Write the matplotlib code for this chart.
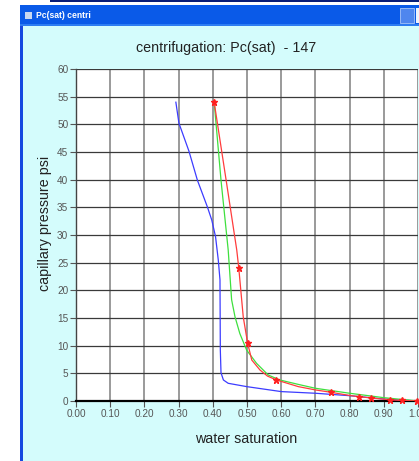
import matplotlib
matplotlib.use('Agg')
import matplotlib.pyplot as plt
from matplotlib.patches import Rectangle
from matplotlib import font_manager

# ── Data ──────────────────────────────────────────────────────────────────────
# measured points (red stars)
meas_sw = [0.404, 0.476, 0.502, 0.586, 0.746, 0.828, 0.864, 0.918, 0.952, 0.996]
meas_pc = [54.0, 24.0, 10.4, 3.8, 1.57, 0.78, 0.54, 0.22, 0.10, 0.0]

# red line through the measured points
red_sw = [0.404, 0.439, 0.470, 0.476, 0.489, 0.502, 0.514, 0.538, 0.560, 0.586,
          0.650, 0.700, 0.746, 0.800, 0.828, 0.864, 0.918, 0.952, 1.000]
red_pc = [54.0, 39.9, 27.3, 24.0, 15.2, 10.4, 7.4, 5.6, 4.5, 3.8,
          2.6, 2.0, 1.57, 1.0, 0.78, 0.54, 0.22, 0.10, 0.0]

# green fitted curve
green_sw = [0.404, 0.424, 0.445, 0.451, 0.455, 0.465, 0.479, 0.499, 0.528,
            0.562, 0.596, 0.650, 0.700, 0.800, 0.900, 1.000]
green_pc = [54.0, 39.9, 27.3, 21.9, 18.3, 15.2, 12.2, 9.2, 6.8,
            4.7, 3.8, 3.0, 2.3, 1.4, 0.6, 0.0]

# blue curve
blue_sw = [0.292, 0.301, 0.330, 0.355, 0.384, 0.397, 0.408, 0.416, 0.421, 0.422,
           0.424, 0.431, 0.445, 0.499, 0.600, 0.700, 0.800, 0.900, 1.000]
blue_pc = [54.0, 50.2, 45.2, 39.9, 35.1, 32.7, 29.7, 25.5, 21.9, 9.2,
           5.1, 3.8, 3.2, 2.6, 1.7, 1.4, 0.96, 0.36, 0.0]

x_ticks = [0.0, 0.1, 0.2, 0.3, 0.4, 0.5, 0.6, 0.7, 0.8, 0.9, 1.0]
y_ticks = [0, 5, 10, 15, 20, 25, 30, 35, 40, 45, 50, 55, 60]

# ── Font ──────────────────────────────────────────────────────────────────────
names = {f.name for f in font_manager.fontManager.ttflist}
fam = 'Liberation Sans Narrow' if 'Liberation Sans Narrow' in names else 'Liberation Sans'
plt.rcParams['font.family'] = [fam, 'DejaVu Sans']

W, H = 419, 461
fig = plt.figure(figsize=(W / 100, H / 100), dpi=100)
fig.patch.set_facecolor('white')

# ── Window decoration (behind the axes) ───────────────────────────────────────
def px(x0, y0, w, h, **kw):
    fig.patches.append(Rectangle((x0 / W, 1 - (y0 + h) / H), w / W, h / H,
                                 transform=fig.transFigure, zorder=-5, **kw))

px(50, 0, 369, 2, color='#0a1e78', lw=0)           # strip at the very top
px(20, 5, 399, 456, color='#1648e0', lw=0)          # window frame
px(20, 5, 399, 21, color='#0a5ae8', lw=0)           # title bar
px(20, 24, 399, 2, color='#2d7cf2', lw=0)
px(23, 26, 396, 435, color='#d4fcfc', lw=0)         # client area
px(400, 8, 14, 15, color='#4f86ee', lw=0.6, ec='#a8c4f8')
px(416, 8, 5, 15, color='#eef2fb', lw=0)
px(25, 12, 7, 7, color='#c8d8f0', lw=0)
fig.text(36 / W, 1 - 16 / H, 'Pc(sat) centri', color='white', fontsize=6.2,
         fontweight='bold', va='center', ha='left')

# ── Axes ──────────────────────────────────────────────────────────────────────
ax = fig.add_axes([76 / W, 1 - 401 / H, 342 / W, 332 / H])
ax.set_facecolor('white')
ax.set_xlim(0, 1.0)
ax.set_ylim(0, 60)

for xv in x_ticks[1:]:
    ax.axvline(xv, color='#9a9a9a', lw=1.4, zorder=1)
for yv in y_ticks[1:]:
    ax.axhline(yv, color='#3a3a3a', lw=0.9, zorder=1)

ax.plot(blue_sw, blue_pc, color='#3c3cff', lw=0.9, zorder=3)
ax.plot(green_sw, green_pc, color='#3ee03e', lw=0.9, zorder=3)
ax.plot(red_sw, red_pc, color='#ff3c3c', lw=0.9, zorder=4)
ax.plot(meas_sw, meas_pc, ls='none', marker='*', ms=4.5, color='#ff2020',
        mec='#ff2020', zorder=5, clip_on=False)

ax.set_xticks(x_ticks)
ax.set_xticklabels([f'{v:.2f}' for v in x_ticks])
ax.set_yticks(y_ticks)
ax.set_yticklabels([str(v) for v in y_ticks])
ax.tick_params(axis='both', labelsize=7.2, labelcolor='#555555', color='#555555',
               length=4, width=0.8, pad=1.5)

for s in ['top', 'right']:
    ax.spines[s].set_visible(False)
ax.spines['bottom'].set_color('black')
ax.spines['bottom'].set_linewidth(1.6)
ax.spines['left'].set_color('#444444')
ax.spines['left'].set_linewidth(1.0)

fig.text(226 / W, 1 - 48 / H, 'centrifugation: Pc(sat)  - 147', fontsize=10.3,
         color='#222222', ha='center', va='center')
fig.text(246 / W, 1 - 439 / H, 'water saturation', fontsize=10.3,
         color='#222222', ha='center', va='center')
fig.text(45 / W, 1 - 223 / H, 'capillary pressure psi', fontsize=10.3,
         color='#222222', ha='center', va='center', rotation=90)

fig.savefig('out.png', dpi=100)
